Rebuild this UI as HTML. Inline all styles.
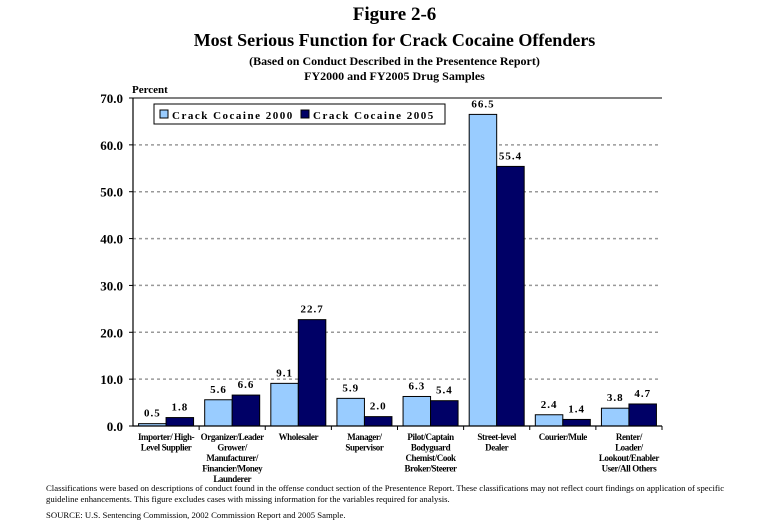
<!DOCTYPE html>
<html><head><meta charset="utf-8"><style>
body{margin:0;background:#fff;font-family:"Liberation Serif",serif;}
#wrap{position:relative;width:773px;height:530px;overflow:hidden;}
.t{position:absolute;left:0;width:773px;text-align:center;font-weight:bold;color:#000;}
.fn{position:absolute;left:46px;font-size:8.7px;color:#000;line-height:11px;}
</style></head><body>
<div id="wrap">
<div class="t" style="top:4px;font-size:19px;left:8px">Figure 2-6</div>
<div class="t" style="top:30px;font-size:18px;left:8px">Most Serious Function for Crack Cocaine Offenders</div>
<div class="t" style="top:54px;font-size:12px;left:8px">(Based on Conduct Described in the Presentence Report)</div>
<div class="t" style="top:69px;font-size:12px;left:8px">FY2000 and FY2005 Drug Samples</div>
<svg id="svg" width="773" height="530" style="position:absolute;left:0;top:0"></svg>
<div class="fn" style="top:483px;width:700px">Classifications were based on descriptions of conduct found in the offense conduct section of the Presentence Report. These classifications may not reflect court findings on application of specific guideline enhancements. This figure excludes cases with missing information for the variables required for analysis.</div>
<div class="fn" style="top:510px">SOURCE: U.S. Sentencing Commission, 2002 Commission Report and 2005 Sample.</div>
</div>
<script>
const categories=[["Importer/ High-","Level Supplier"],["Organizer/Leader","Grower/","Manufacturer/","Financier/Money","Launderer"],["Wholesaler"],["Manager/","Supervisor"],["Pilot/Captain","Bodyguard","Chemist/Cook","Broker/Steerer"],["Street-level","Dealer"],["Courier/Mule"],["Renter/","Loader/","Lookout/Enabler","User/All Others"]];
const values2000=[0.5,5.6,9.1,5.9,6.3,66.5,2.4,3.8];
const values2005=[1.8,6.6,22.7,2.0,5.4,55.4,1.4,4.7];
const yTicks=[0,10,20,30,40,50,60,70];
const svg=document.getElementById('svg');
const NS='http://www.w3.org/2000/svg';
const X0=133,X1=662,Y0=426,Y70=98;
const catW=(X1-X0)/categories.length;
const y=v=>Y0-(v/70)*(Y0-Y70);
function mk(t,a,txt){const e=document.createElementNS(NS,t);for(const k in a)e.setAttribute(k,a[k]);if(txt!==undefined)e.textContent=txt;svg.appendChild(e);return e;}
yTicks.forEach(v=>{
 if(v>0&&v<70){const g=mk('line',{x1:X0,x2:X1-4,y1:y(v),y2:y(v),stroke:'#999','stroke-width':1.5,'stroke-dasharray':'3,3'});
 
 }
 const l=mk('text',{x:X0-10,y:y(v)+5,'text-anchor':'end','font-size':13,'font-weight':'bold','font-family':'Liberation Serif, serif'},v.toFixed(1));
 
 
 const tk=mk('line',{x1:X0-4,x2:X0,y1:y(v),y2:y(v),stroke:'#000'});
 
 
});
const yt=mk('text',{x:132,y:93,'font-size':11,'font-weight':'bold','font-family':'Liberation Serif, serif'},'Percent');


const bw=27.5;
categories.forEach((c,i)=>{
 const cx=X0+catW*(i+0.5);
 [[values2000[i],'#99ccff',cx-bw],[values2005[i],'#000066',cx]].forEach(([v,col,x],s)=>{
  const r=mk('rect',{x:x,y:y(v),width:bw,height:Y0-y(v),fill:col,stroke:'#000','stroke-width':1});
  
  
  const t=mk('text',{x:x+bw/2,y:y(v)-7,'text-anchor':'middle','font-size':11,'font-weight':'bold','letter-spacing':'1','font-family':'Liberation Serif, serif'},v.toFixed(1));
  
  
 });
 c.forEach((ln,j)=>{
  const t=mk('text',{x:cx,y:Y0+14+j*10.5,'text-anchor':'middle','font-size':9,'font-weight':'bold','letter-spacing':'-0.4','font-family':'Liberation Serif, serif'},ln);
  
  
 });
 const tk=mk('line',{x1:X0+catW*(i+1),x2:X0+catW*(i+1),y1:Y0,y2:Y0+4,stroke:'#000'});
 
 
});
const ax=mk('path',{d:`M${X0},${Y70}V${Y0}H${X1}`,fill:'none',stroke:'#000','stroke-width':1.2});


const plotTop=mk('line',{x1:X0,x2:X1,y1:Y70,y2:Y70,stroke:'#000','stroke-width':1});


const lg=mk('rect',{x:154,y:104,width:291,height:20,fill:'#fff',stroke:'#000','stroke-width':1});


[['#99ccff','Crack Cocaine 2000',160],['#000066','Crack Cocaine 2005',301]].forEach(([c,n,x],i)=>{
 const s=mk('rect',{x:x,y:110,width:8,height:8,fill:c,stroke:'#000'});
 
 
 const t=mk('text',{x:x+12,y:119,'font-size':11,'font-weight':'bold','letter-spacing':'1.5','font-family':'Liberation Serif, serif'},n);
 
 
});
</script>
</body></html>
